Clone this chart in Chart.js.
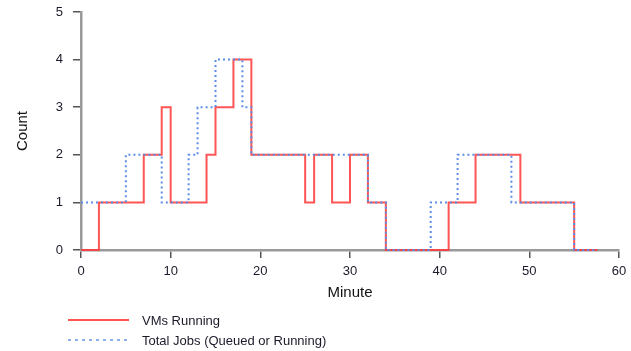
<!DOCTYPE html>
<html>
<head>
<meta charset="utf-8">
<script src="https://cdn.jsdelivr.net/npm/chart.js@4.4.1/dist/chart.umd.min.js"></script>
<style>
  html, body { margin: 0; padding: 0; background: #fff; }
  #wrap { position: relative; width: 631px; height: 351px; }
  #legend { position: absolute; left: 68px; top: 310px; font-family: "Liberation Sans", Arial, sans-serif; font-size: 13px; color: #1a1a2a; }
  .item { display: flex; align-items: center; height: 20px; }
  .swatch { width: 61px; height: 2px; margin-right: 13px; }
</style>
</head>
<body>
<div id="wrap">
  <canvas id="grafik" width="631" height="351"></canvas>
  <div id="legend"></div>
</div>
<script>
// VMs Running - step starts (minute) and count from that minute on
const vmMinutes = [0, 2, 7, 9, 10, 14, 15, 17, 19, 25, 26, 28, 30, 32, 34, 41, 44, 49, 55, 57.6];
const vmCounts  = [0, 1, 2, 3, 1, 2, 3, 4, 2, 1, 2, 1, 2, 1, 0, 1, 2, 1, 0, 0];

// Total Jobs (Queued or Running)
const jobMinutes = [0, 5, 9, 12, 13, 15, 18, 19, 32, 34, 39, 42, 48, 55, 57.6];
const jobCounts  = [1, 2, 1, 2, 3, 4, 3, 2, 1, 0, 1, 2, 1, 0, 0];

const xTicks = [0, 10, 20, 30, 40, 50, 60];
const yTicks = [0, 1, 2, 3, 4, 5];

const yazi = '"Liberation Sans", Arial, sans-serif';

const vmVeri = vmMinutes.map((m, i) => ({ x: m, y: vmCounts[i] }));
const jobVeri = jobMinutes.map((m, i) => ({ x: m, y: jobCounts[i] }));

const ctx = document.getElementById('grafik').getContext('2d');
const grafik = new Chart(ctx, {
  type: 'line',
  data: {
    datasets: [
      {
        label: 'VMs Running',
        data: vmVeri,
        stepped: true,
        borderColor: 'rgba(255, 55, 55, 0.85)',
        borderWidth: 2,
        pointRadius: 0,
        fill: false,
        clip: 4,
        order: 1
      },
      {
        label: 'Total Jobs (Queued or Running)',
        data: jobVeri,
        stepped: true,
        borderColor: '#5b8ee6',
        borderWidth: 2,
        borderDash: [2, 3],
        pointRadius: 0,
        fill: false,
        clip: 4,
        order: 0
      }
    ]
  },
  options: {
    responsive: false,
    animation: false,
    layout: { padding: { left: 0, right: 12, top: 12, bottom: 0 } },
    plugins: {
      legend: { display: false },
      tooltip: { enabled: false }
    },
    scales: {
      x: {
        type: 'linear',
        min: 0,
        max: 60,
        afterBuildTicks: s => { s.ticks = xTicks.map(v => ({ value: v })); },
        afterFit: s => { s.height = 101; s.paddingLeft = 0; s.paddingRight = 0; },
        grid: { drawOnChartArea: false, drawTicks: true, tickLength: 8, color: '#555', lineWidth: 1.5 },
        border: { display: true, color: '#9a9a9a', width: 2.5 },
        ticks: { color: '#1a1a2a', padding: 6, maxRotation: 0, font: { size: 13, family: yazi } },
        title: { display: true, text: 'Minute', color: '#111', padding: { top: 0, bottom: 49 }, font: { size: 15, family: yazi } }
      },
      y: {
        min: 0,
        max: 5,
        afterBuildTicks: s => { s.ticks = yTicks.map(v => ({ value: v })); },
        afterFit: s => { s.width = 81; s.paddingTop = 0; s.paddingBottom = 0; },
        grid: { drawOnChartArea: false, drawTicks: true, tickLength: 8, color: '#555', lineWidth: 1.5 },
        border: { display: true, color: '#9a9a9a', width: 2.5 },
        ticks: { color: '#1a1a2a', padding: 10, font: { size: 13, family: yazi } },
        title: { display: true, text: 'Count', color: '#111', padding: { top: 13.5, bottom: 0 }, font: { size: 15, family: yazi } }
      }
    }
  }
});

// legend below the chart, left aligned like the original
const legend = document.getElementById('legend');
const sira = [grafik.data.datasets[0], grafik.data.datasets[1]];
sira.forEach(ds => {
  const item = document.createElement('div');
  item.className = 'item';
  const sw = document.createElement('span');
  sw.className = 'swatch';
  if (ds.borderDash) {
    sw.style.background = 'repeating-linear-gradient(to right, #8ab0ee 0 3px, transparent 3px 7px)';
  } else {
    sw.style.background = ds.borderColor;
  }
  const txt = document.createElement('span');
  txt.textContent = ds.label;
  item.appendChild(sw);
  item.appendChild(txt);
  legend.appendChild(item);
});
</script>
</body>
</html>
